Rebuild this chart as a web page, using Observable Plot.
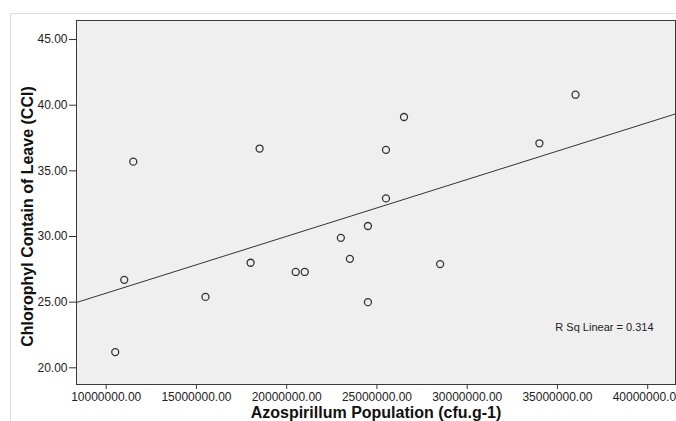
<!DOCTYPE html>
<html><head><meta charset="utf-8">
<script src="https://cdn.jsdelivr.net/npm/d3@7"></script>
<script src="https://cdn.jsdelivr.net/npm/@observablehq/plot@0.6"></script>
<style>
html,body{margin:0;padding:0;background:#fff;}
#wrap{position:relative;width:676px;height:421px;overflow:hidden;}
#chart{position:absolute;left:0;top:0;}
#border{position:absolute;left:10px;top:13px;width:700px;height:500px;border-left:1px solid #dcdcdc;border-top:1px solid #dcdcdc;pointer-events:none;}
</style></head><body>
<div id="wrap"><div id="chart"></div><div id="border"></div></div>
<script>
// Azospirillum population (cfu/g)
const population = [10500000, 11000000, 11500000, 15500000, 18000000, 18500000, 20500000, 21000000, 23000000, 23500000, 24500000, 24500000, 25500000, 25500000, 26500000, 28500000, 34000000, 36000000];
// Chlorophyll content of leave (CCI)
const chlorophyll = [21.2, 26.7, 35.7, 25.4, 28.0, 36.7, 27.3, 27.3, 29.9, 28.3, 30.8, 25.0, 36.6, 32.9, 39.1, 27.9, 37.1, 40.8];
const xTicks = [10000000, 15000000, 20000000, 25000000, 30000000, 35000000, 40000000];
const yTicks = [20, 25, 30, 35, 40, 45];
const xDomain = [8355000, 41540000];
const yDomain = [18.73, 46.45];
const xTitle = "Azospirillum Population (cfu.g-1)";
const yTitle = "Chlorophyl Contain of Leave (CCI)";

const data = population.map((x, i) => ({x, y: chlorophyll[i]}));

// least-squares fit
const mx = d3.mean(population), my = d3.mean(chlorophyll);
let sxy = 0, sxx = 0, syy = 0;
data.forEach(d => { sxy += (d.x - mx) * (d.y - my); sxx += (d.x - mx) ** 2; syy += (d.y - my) ** 2; });
const slope = sxy / sxx, intercept = my - slope * mx;
const r2 = (sxy * sxy) / (sxx * syy);
const fitLine = xDomain.map(x => ({x, y: intercept + slope * x}));
const rText = "R Sq Linear = " + d3.format(".3f")(r2);

const chart = Plot.plot({
  width: 676,
  height: 421,
  marginLeft: 76,
  marginTop: 20,
  marginRight: 1,
  marginBottom: 37,
  style: {fontFamily: "'Liberation Sans', Arial, sans-serif", fontSize: "12px", background: "transparent", color: "#222"},
  x: {domain: xDomain},
  y: {domain: yDomain},
  marks: [
    Plot.frame({fill: "#f0eff0", stroke: "none"}),
    Plot.axisX({ticks: xTicks, tickFormat: d3.format(".2f"), tickSize: 5, tickPadding: 3, label: null, stroke: "#333", fill: "#222", fontSize: 12}),
    Plot.axisY({ticks: yTicks, tickFormat: d3.format(".2f"), tickSize: 7, tickPadding: 2, label: null, stroke: "#333", fill: "#222", fontSize: 12}),
    Plot.line(fitLine, {x: "x", y: "y", stroke: "#333", strokeWidth: 1, clip: true}),
    Plot.dot(data, {x: "x", y: "y", r: 3.5, stroke: "#333", strokeWidth: 1.3, fill: "none"}),
    Plot.text([rText], {text: d => d, frameAnchor: "bottom-right", dx: -22, dy: -57, textAnchor: "end", lineAnchor: "middle", fontSize: 11, fill: "#222"}),
    Plot.text([xTitle], {text: d => d, frameAnchor: "bottom", dy: 28, textAnchor: "middle", lineAnchor: "middle", fontSize: 16, fontWeight: "bold", fill: "#111"}),
    Plot.text([yTitle], {text: d => d, frameAnchor: "left", dx: -49, dy: 14, rotate: -90, textAnchor: "middle", lineAnchor: "middle", fontSize: 16, fontWeight: "bold", fill: "#111"}),
    Plot.frame({stroke: "#3a3a3a", strokeWidth: 1})
  ]
});
document.getElementById("chart").appendChild(chart);
</script>
</body></html>
